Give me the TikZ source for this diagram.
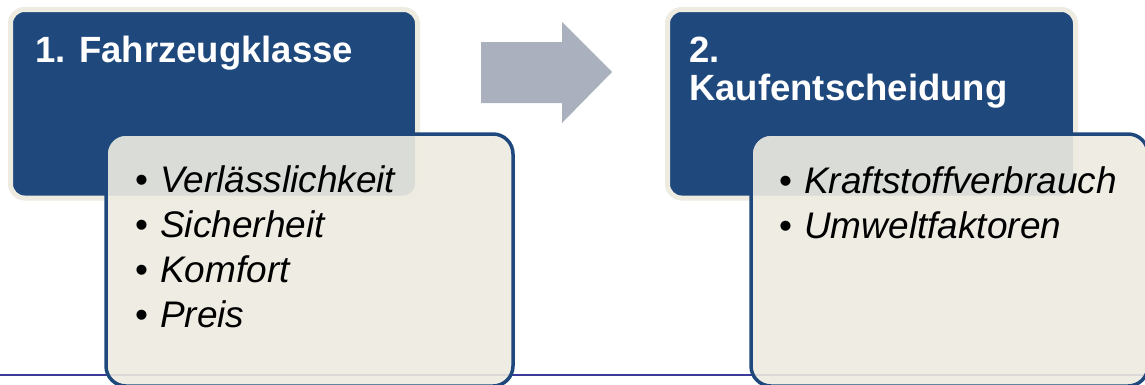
\documentclass[tikz,border=0pt]{standalone}
\usepackage{fontspec}
\setmainfont{Liberation Sans}
\definecolor{darkblue}{HTML}{1F497D}
\definecolor{cream}{HTML}{EEECE1}
\definecolor{arrowgray}{HTML}{ABB0BF}
\definecolor{rulecolor}{HTML}{3C3C98}
\tikzset{
  headbox/.style={draw=cream, line width=5pt, fill=darkblue, rounded corners=14pt, inner sep=0pt},
  itembox/.style={draw=darkblue, line width=3.5pt, fill=cream, fill opacity=0.9, rounded corners=20pt, inner sep=0pt},
  headtext/.style={anchor=base west, inner sep=0pt, text=white, font=\fontsize{36.5}{38}\selectfont\bfseries},
  itemtext/.style={anchor=base west, inner sep=0pt, text=black, font=\fontsize{37}{40}\selectfont},
  blockarrow/.style={fill=arrowgray, draw=none}
}
\newcommand{\bul}[1]{\makebox[25pt][l]{•}\textit{#1}}
\begin{document}
\begin{tikzpicture}[x=1pt,y=-1pt]
\clip (0,0) rectangle (1145,384);
\fill[white] (0,0) rectangle (1145,384);
% bottom rule
\coordinate (l0) at (0,375);
\coordinate (l1) at (1145,375);
\draw[draw=rulecolor, line width=1.5pt] (l0) -- (l1);
% header boxes
\node[headbox, minimum width=407pt, minimum height=188.5pt] (h1) at (214,103.75) {};
\node[headbox, minimum width=408pt, minimum height=188.5pt] (h2) at (871.5,103.75) {};
% block arrow
\fill[arrowgray] (481,42) -- (562,42) -- (562,22) -- (612,72) -- (562,123) -- (562,103) -- (481,103) -- cycle;
% item boxes
\node[itembox, minimum width=407pt, minimum height=252pt] (b1) at (309.5,260) {};
\node[itembox, minimum width=397pt, minimum height=252pt] (b2) at (949.5,260) {};
% header texts
\node[headtext] (t1) at (35,62) {1. Fahrzeugklasse};
\node[headtext] (t2a) at (689,62) {2.};
\node[headtext] (t2b) at (689,100) {Kaufentscheidung};
% items box 1
\node[itemtext] (i11) at (135,192) {\bul{Verlässlichkeit}};
\node[itemtext] (i12) at (135,237) {\bul{Sicherheit}};
\node[itemtext] (i13) at (135,282) {\bul{Komfort}};
\node[itemtext] (i14) at (135,327) {\bul{Preis}};
% items box 2
\node[itemtext] (i21) at (779,193) {\bul{Kraftstoffverbrauch}};
\node[itemtext] (i22) at (779,238) {\bul{Umweltfaktoren}};
\end{tikzpicture}
\end{document}
